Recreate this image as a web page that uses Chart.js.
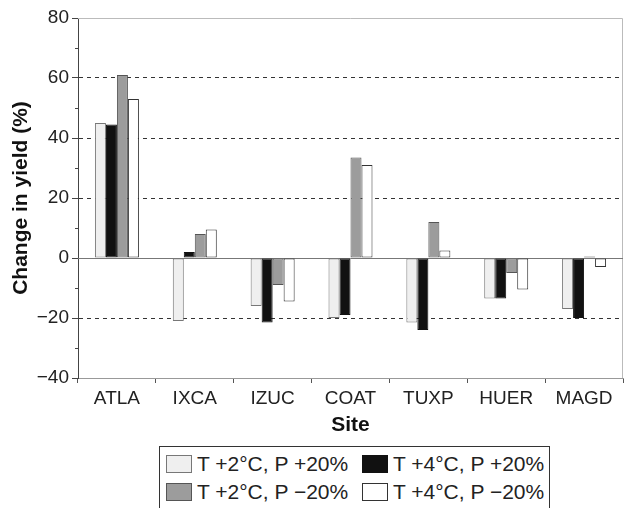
<!DOCTYPE html>
<html>
<head>
<meta charset="utf-8">
<script src="https://cdn.jsdelivr.net/npm/chart.js@4"></script>
<style>
    body { margin: 0; background: #fff; font-family: "Liberation Sans", Arial, sans-serif; }
    #wrap { position: relative; width: 632px; height: 508px; overflow: hidden; }
    #legend { position: absolute; left: 159px; top: 446px; width: 391px; height: 64px; border: 1px solid #333; box-sizing: border-box; }
    .item { position: absolute; display: flex; align-items: center; font-size: 21px; color: #222; white-space: nowrap; }
    .swatch { width: 26px; height: 18px; box-sizing: border-box; border: 1px solid #444; margin-right: 5px; }
</style>
</head>
<body>
<div id="wrap">
    <canvas id="myChart" width="632" height="440"></canvas>
    <div id="legend"></div>
</div>
<script>
const sites = ["ATLA", "IXCA", "IZUC", "COAT", "TUXP", "HUER", "MAGD"];
const yTicks = [-40, -20, 0, 20, 40, 60, 80];
const yMinorTicks = [-30, -10, 10, 30, 50, 70];

// Change in yield (%) per scenario
const t2p20 = [45, -21, -16, -20, -21.5, -13.5, -17];
const t4p20 = [44.5, 2, -21.5, -19, -24, -13.5, -20];
const t2m20 = [61, 8, -9, 33.5, 12, -5, 0.5];
const t4m20 = [53, 9.5, -14.5, 31, 2.5, -10.5, -3];

const labels = ["T +2°C, P +20%", "T +4°C, P +20%", "T +2°C, P \u221220%", "T +4°C, P \u221220%"];
const fills = ["#efefef", "#111111", "#9c9c9c", "#ffffff"];
const borders = ["#777777", "#111111", "#555555", "#333333"];

const series = [t2p20, t4p20, t2m20, t4m20];

// solid zero line, minor ticks and a light frame around the plot
const framePlugin = {
    id: "frame",
    beforeDatasetsDraw(chart) {
        const { ctx, chartArea: a, scales: { y } } = chart;
        ctx.save();
        ctx.strokeStyle = "#bbbbbb";
        ctx.lineWidth = 1;
        ctx.beginPath();
        ctx.moveTo(a.left, a.top + 0.5);
        ctx.lineTo(a.right - 0.5, a.top + 0.5);
        ctx.lineTo(a.right - 0.5, a.bottom);
        ctx.stroke();
        const y0 = Math.round(y.getPixelForValue(0)) + 0.5;
        ctx.strokeStyle = "#777777";
        ctx.beginPath();
        ctx.moveTo(a.left, y0);
        ctx.lineTo(a.right, y0);
        ctx.stroke();
        ctx.strokeStyle = "#444";
        ctx.beginPath();
        yMinorTicks.forEach(v => {
            const py = Math.round(y.getPixelForValue(v)) + 0.5;
            ctx.moveTo(a.left - 3, py);
            ctx.lineTo(a.left, py);
        });
        ctx.stroke();
        ctx.restore();
    }
};

const ctx = document.getElementById("myChart").getContext("2d");
const myChart = new Chart(ctx, {
    type: "bar",
    data: {
        labels: sites,
        datasets: series.map((data, i) => ({
            label: labels[i],
            data: data,
            backgroundColor: fills[i],
            borderColor: borders[i],
            borderWidth: 1,
            borderSkipped: false,
            categoryPercentage: 0.565,
            barPercentage: 1.0
        }))
    },
    options: {
        responsive: false,
        animation: false,
        layout: { padding: { left: 0, right: 9, top: 18, bottom: 0 } },
        plugins: {
            legend: { display: false },
            tooltip: { enabled: false }
        },
        scales: {
            x: {
                grid: { display: true, drawOnChartArea: false, drawTicks: true, tickLength: 5, tickColor: "#555", offset: true },
                border: { display: true, color: "#999" },
                ticks: { color: "#222", font: { family: "Liberation Sans", size: 19 }, padding: 4 },
                title: { display: true, text: "Site", color: "#111", font: { family: "Liberation Sans", size: 21, weight: "bold" }, padding: { top: 4, bottom: 2 } },
                afterFit: (s) => { s.height = 62; }
            },
            y: {
                min: -40,
                max: 80,
                afterBuildTicks: (s) => { s.ticks = yTicks.map(v => ({ value: v })); },
                grid: {
                    color: (c) => (c.tick && [0, 80, -40].includes(c.tick.value)) ? "rgba(0,0,0,0)" : "#333",
                    lineWidth: 1,
                    tickLength: 6,
                    tickColor: "#444"
                },
                border: { display: true, color: "#444", dash: [4, 4] },
                ticks: { color: "#222", font: { family: "Liberation Sans", size: 19 }, padding: 3,
                    callback: (v) => v < 0 ? "\u2212" + Math.abs(v) : v },
                title: { display: true, text: "Change in yield (%)", color: "#111", font: { family: "Liberation Sans", size: 21, weight: "bold" }, padding: { top: 9, bottom: 0 } },
                afterFit: (s) => { s.width = 78; }
            }
        }
    },
    plugins: [framePlugin]
});

// Legend in two rows, two columns
const legend = document.getElementById("legend");
const spots = [[6, 5], [202, 5], [6, 33], [202, 33]];
labels.forEach((text, i) => {
    const item = document.createElement("div");
    item.className = "item";
    item.style.left = spots[i][0] + "px";
    item.style.top = spots[i][1] + "px";
    item.innerHTML = `<span class="swatch" style="background:${fills[i]};border-color:${borders[i]}"></span><span>${text}</span>`;
    legend.appendChild(item);
});
</script>
</body>
</html>
